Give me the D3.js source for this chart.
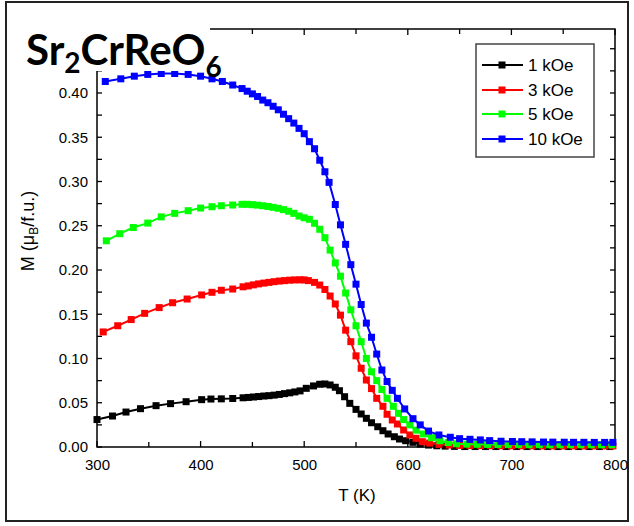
<!DOCTYPE html>
<html><head><meta charset="utf-8">
<script src="https://cdn.jsdelivr.net/npm/d3@7"></script>
<style>body{margin:0;background:#fff}</style>
</head><body>
<svg id="c" width="634" height="526"></svg>
<script>
// ---------- data ----------
const seriesNames = ["1 kOe", "3 kOe", "5 kOe", "10 kOe"];
const seriesColors = ["#000000", "#ff0000", "#00ff00", "#0000ff"];
const xTickValues = [300, 400, 500, 600, 700, 800];
const yTickValues = [0, 0.05, 0.10, 0.15, 0.20, 0.25, 0.30, 0.35, 0.40];

const T_1kOe = [300,315,328,342,357,371,386,401,410,420,431,441,446,451,456,461,466,471,476,481,486,491,496,502,509,515,520,525,530,534,539,544,550,555,560,565,571,576,581,587,592,598,605,612,620,628,636,645,655,665,675,685,695,705,715,725,735,745,755,765,775,785,795];
const M_1kOe = [0.031,0.035,0.0395,0.0433,0.0467,0.049,0.0512,0.0535,0.0542,0.0544,0.0548,0.0556,0.056,0.0565,0.057,0.0576,0.058,0.0586,0.0594,0.0603,0.0612,0.0622,0.0634,0.0663,0.069,0.0709,0.0712,0.0701,0.0675,0.0636,0.0568,0.0493,0.0425,0.0373,0.0324,0.0274,0.0229,0.0184,0.0147,0.0116,0.009,0.0071,0.0053,0.0034,0.0022,0.0014,0.001,0.0007,0.0005,0.0005,0.0005,0.0005,0.0005,0.0005,0.0005,0.0005,0.0005,0.0005,0.0005,0.0005,0.0005,0.0005,0.0005];

const T_3kOe = [306,320,333,346,360,373,387,401,411,420,431,441,446,451,456,461,466,471,476,481,486,491,496,500,504,510,515,520,525,530,535,540,545,550,555,560,565,570,576,580,585,590,596,602,608,614,621,630,640,650,660,670,680,690,700,710,720,730,740,750,760,770,780,790,798];
const M_3kOe = [0.130,0.137,0.144,0.151,0.1575,0.163,0.1672,0.1718,0.1748,0.1771,0.1785,0.181,0.182,0.1832,0.1843,0.1852,0.186,0.1868,0.1875,0.188,0.1885,0.1888,0.1889,0.1888,0.188,0.186,0.183,0.178,0.1706,0.1616,0.149,0.132,0.119,0.103,0.089,0.0757,0.066,0.055,0.046,0.037,0.0305,0.026,0.0192,0.0136,0.0098,0.006,0.0045,0.003,0.0022,0.0018,0.0016,0.0015,0.0014,0.0014,0.0013,0.0013,0.0013,0.0012,0.0012,0.0012,0.0012,0.0012,0.0012,0.0012,0.0012];

const T_5kOe = [309,322,335,349,362,375,388,400,411,420,431,440,445,450,455,460,465,470,475,480,485,490,495,500,505,510,515,520,525,530,535,540,545,550,555,560,565,570,575,580,586,591,596,602,608,615,623,631,639,647,657,667,677,687,697,707,717,727,737,747,757,767,777,787,797];
const M_5kOe = [0.233,0.241,0.248,0.253,0.260,0.264,0.267,0.270,0.2715,0.2726,0.2734,0.2742,0.2742,0.2738,0.2733,0.2726,0.2718,0.2708,0.2697,0.2682,0.2664,0.264,0.261,0.259,0.2573,0.2528,0.246,0.2365,0.2225,0.208,0.193,0.174,0.155,0.137,0.119,0.100,0.085,0.075,0.065,0.055,0.046,0.038,0.031,0.025,0.019,0.0147,0.0105,0.0071,0.005,0.0036,0.0032,0.003,0.0029,0.0028,0.0027,0.0027,0.0026,0.0026,0.0025,0.0025,0.0025,0.0025,0.0025,0.0025,0.0025];

const T_10kOe = [308,323,336,349,362,375,388,400,411,421,431,440,445,450,455,460,465,470,475,480,485,490,495,500,505,510,515,520,524,530,535,540,545,550,555,560,565,570,575,580,585,590,597,605,612,620,630,641,650,660,670,679,690,701,710,720,731,740,751,760,770,780,790,798];
const M_10kOe = [0.413,0.416,0.419,0.421,0.422,0.422,0.421,0.419,0.416,0.413,0.409,0.405,0.402,0.399,0.396,0.392,0.389,0.385,0.381,0.376,0.371,0.366,0.360,0.354,0.345,0.337,0.324,0.311,0.299,0.274,0.251,0.229,0.206,0.184,0.161,0.140,0.124,0.105,0.087,0.074,0.064,0.055,0.043,0.032,0.025,0.018,0.0136,0.011,0.0094,0.0087,0.008,0.0072,0.0065,0.0062,0.006,0.0058,0.0056,0.0055,0.0054,0.0053,0.0053,0.0052,0.0052,0.0052];

const seriesT = [T_1kOe, T_3kOe, T_5kOe, T_10kOe];
const seriesM = [M_1kOe, M_3kOe, M_5kOe, M_10kOe];

// ---------- layout ----------
const svg = d3.select("#c");
const L = 97, R = 615, Tp = 29, B = 447;
const x = d3.scaleLinear().domain([300, 800]).range([L, R]);
const y = d3.scaleLinear().domain([0, 0.4723]).range([B, Tp]);

// outer frame
svg.append("rect").attr("x", 6).attr("y", 2).attr("width", 622).attr("height", 519)
  .attr("fill", "#fff").attr("stroke", "#222").attr("stroke-width", 2);

// axes
const font = "'Liberation Sans', Arial, sans-serif";
const minorX = d3.range(300, 801, 50);
const minorY = d3.range(0, 0.4724, 0.025);

const gx = svg.append("g").attr("transform", `translate(0,${B})`)
  .call(d3.axisBottom(x).tickValues(xTickValues).tickFormat(d3.format("d")).tickSize(0).tickPadding(12));
const gy = svg.append("g").attr("transform", `translate(${L},0)`)
  .call(d3.axisLeft(y).tickValues(yTickValues).tickFormat(d3.format(".2f")).tickSize(0).tickPadding(9));
[gx, gy].forEach(g => {
  g.attr("font-family", font).attr("font-size", 15);
  g.select(".domain").remove();
  g.selectAll("text").style("font-family", font).style("font-size", "15px").attr("fill", "#000");
});

// inward ticks on all four sides
const tk = svg.append("g").attr("stroke", "#000").attr("stroke-width", 1.3);
minorX.forEach(v => {
  const len = (v % 100 === 0) ? 6 : 5;
  tk.append("line").attr("x1", x(v)).attr("x2", x(v)).attr("y1", B).attr("y2", B - len);
  tk.append("line").attr("x1", x(v)).attr("x2", x(v)).attr("y1", Tp).attr("y2", Tp + len);
});
minorY.forEach(v => {
  tk.append("line").attr("x1", L).attr("x2", L + 5).attr("y1", y(v)).attr("y2", y(v));
  tk.append("line").attr("x1", R).attr("x2", R - 5).attr("y1", y(v)).attr("y2", y(v));
});
svg.append("rect").attr("x", L).attr("y", Tp).attr("width", R - L).attr("height", B - Tp)
  .attr("fill", "none").attr("stroke", "#000").attr("stroke-width", 1.5);

// series
const line = d3.line().x(d => x(d[0])).y(d => y(d[1]));
seriesT.forEach((Ts, i) => {
  const pts = Ts.map((t, j) => [t, seriesM[i][j]]);
  const g = svg.append("g");
  g.append("path").datum(pts).attr("d", line).attr("fill", "none")
    .attr("stroke", seriesColors[i]).attr("stroke-width", 2);
  g.selectAll("rect").data(pts).enter().append("rect")
    .attr("x", d => x(d[0]) - 3.5).attr("y", d => y(d[1]) - 3.5)
    .attr("width", 7).attr("height", 7).attr("fill", seriesColors[i]);
});

// title with white background
svg.append("rect").attr("x", 20).attr("y", 18).attr("width", 190).attr("height", 53).attr("fill", "#fff");
const title = svg.append("text").attr("x", 26).attr("y", 65)
  .style("font-family", "Lato, 'Open Sans', sans-serif").style("font-weight", "bold")
  .style("font-size", "42px").attr("fill", "#000");
title.append("tspan").text("Sr");
title.append("tspan").attr("dy", 8).style("font-size", "28px").text("2");
title.append("tspan").attr("dy", -8).text("CrReO");
title.append("tspan").attr("dy", 12).style("font-size", "28px").text("6");

// axis titles
svg.append("text").attr("x", 357).attr("y", 501).attr("text-anchor", "middle")
  .style("font-family", font).style("font-size", "17px").text("T (K)");
const yl = svg.append("text").attr("transform", `translate(34,231) rotate(-90)`).attr("text-anchor", "middle")
  .style("font-family", font).style("font-size", "18px");
yl.append("tspan").text("M (\u03bc");
yl.append("tspan").attr("dy", 4).style("font-size", "12px").text("B");
yl.append("tspan").attr("dy", -4).text("/f.u.)");

// legend
const lg = svg.append("g");
lg.append("rect").attr("x", 476).attr("y", 44).attr("width", 118).attr("height", 113)
  .attr("fill", "#fff").attr("stroke", "#444").attr("stroke-width", 1.5);
const rowY = [65, 90, 114, 139];
seriesNames.forEach((nm, i) => {
  lg.append("line").attr("x1", 482).attr("x2", 523).attr("y1", rowY[i]).attr("y2", rowY[i])
    .attr("stroke", seriesColors[i]).attr("stroke-width", 2);
  lg.append("rect").attr("x", 498.5).attr("y", rowY[i] - 3.5).attr("width", 7).attr("height", 7)
    .attr("fill", seriesColors[i]);
  lg.append("text").attr("x", 528).attr("y", rowY[i] + 6).style("font-family", font)
    .style("font-size", "17px").text(nm);
});
</script>
</body></html>
